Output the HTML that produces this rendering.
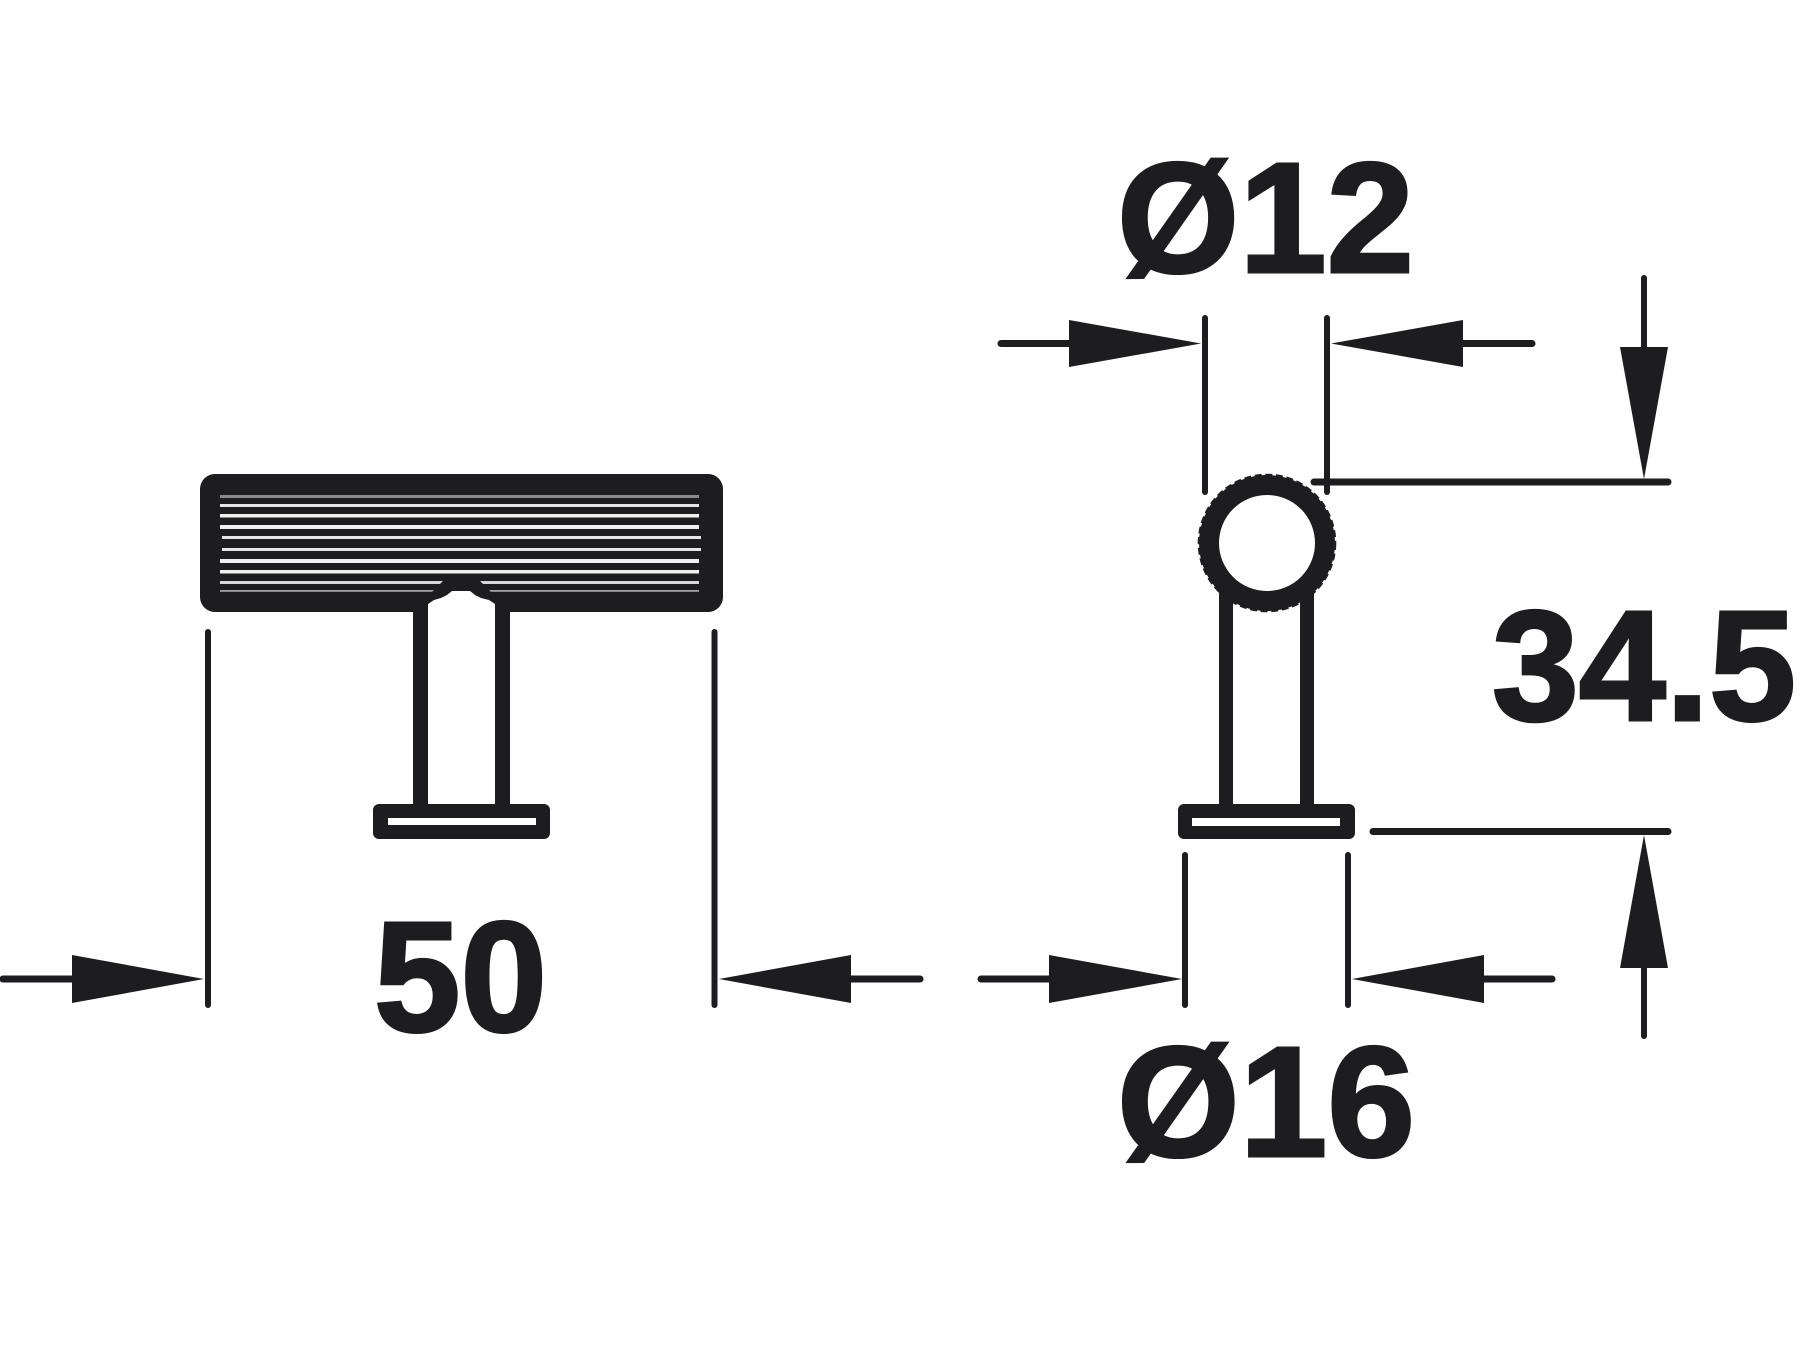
<!DOCTYPE html>
<html lang="en">
<head>
<meta charset="utf-8">
<title>Knob dimensions</title>
<style>
html,body{margin:0;padding:0;background:#fff;width:1800px;height:1350px;overflow:hidden}
svg{display:block}
text{font-family:"Liberation Sans",sans-serif;font-weight:700;font-size:157px;fill:#1d1c1e;stroke:#1d1c1e;stroke-width:3px}
</style>
</head>
<body>
<svg width="1800" height="1350" viewBox="0 0 1800 1350" xmlns="http://www.w3.org/2000/svg">
<rect width="1800" height="1350" fill="#fefefe"/>

<!-- Left view: knob head -->
<rect x="200" y="474" width="523" height="138" rx="15" fill="#1d1c1e"/>
<g>
<rect x="220" y="495" width="479" height="3" fill="#8a8a8a"/>
<rect x="220" y="504" width="479" height="3" fill="#e6e6e6"/>
<rect x="220" y="514" width="479" height="3.5" fill="#f0f0f0"/>
<rect x="220" y="525" width="479" height="4" fill="#f0f0f0"/>
<rect x="222" y="536" width="479" height="3" fill="#e6e6e6"/>
<rect x="222" y="548" width="479" height="3" fill="#e6e6e6"/>
<rect x="220" y="559" width="479" height="4" fill="#f0f0f0"/>
<rect x="220" y="570" width="479" height="3.5" fill="#f0f0f0"/>
<rect x="220" y="581" width="479" height="3" fill="#d8d8d8"/>
<rect x="220" y="590" width="479" height="1.8" fill="#a0a0a0"/>
</g>
<path d="M432 592 L446 578 L477 578 L491 592 L491 606 L432 606 Z" fill="#1d1c1e"/>
<!-- Left view: stem -->
<rect x="413" y="600" width="97" height="210" fill="#1d1c1e"/>
<path d="M428 810 L428 604 L434 600 L441 598 L447 595 L452 591 L470 591 L475 595 L481 598 L489 600 L495 604 L495 810 Z" fill="#fff"/>
<!-- Left view: base plate -->
<rect x="373" y="804" width="177" height="35" rx="6" fill="#1d1c1e"/>
<rect x="388" y="818" width="148" height="7" fill="#fff"/>

<!-- Right view: stem, plate, knurled ring -->
<rect x="1219" y="585" width="14" height="225" fill="#1d1c1e"/>
<rect x="1300" y="585" width="14" height="225" fill="#1d1c1e"/>
<rect x="1178" y="804" width="177" height="35" rx="6" fill="#1d1c1e"/>
<rect x="1192" y="818" width="148" height="8" fill="#fff"/>
<circle cx="1267" cy="543" r="58" fill="#fff" stroke="#1d1c1e" stroke-width="20"/>
<circle cx="1267" cy="543" r="68.5" fill="none" stroke="#1d1c1e" stroke-width="1.6" stroke-dasharray="7 3.7"/>

<!-- Lines -->
<g stroke="#1d1c1e" fill="none" stroke-linecap="round">
<g stroke-width="6">
<line x1="208" y1="632" x2="208" y2="1005"/>
<line x1="714.5" y1="632" x2="714.5" y2="1005"/>
<line x1="1205" y1="318" x2="1205" y2="492"/>
<line x1="1327" y1="318" x2="1327" y2="492"/>
<line x1="1185" y1="855" x2="1185" y2="1005"/>
<line x1="1348" y1="855" x2="1348" y2="1005"/>
<line x1="1644" y1="278" x2="1644" y2="350"/>
<line x1="1644" y1="965" x2="1644" y2="1036"/>
</g>
<g stroke-width="7">
<line x1="3" y1="979" x2="75" y2="979"/>
<line x1="850" y1="979" x2="920" y2="979"/>
<line x1="981" y1="979" x2="1052" y2="979"/>
<line x1="1481" y1="979" x2="1552" y2="979"/>
<line x1="1001" y1="343.5" x2="1072" y2="343.5"/>
<line x1="1460" y1="343.5" x2="1532" y2="343.5"/>
<line x1="1314" y1="482" x2="1668" y2="482"/>
<line x1="1373" y1="831.5" x2="1668" y2="831.5"/>
</g>
</g>

<!-- Arrowheads -->
<g fill="#1d1c1e">
<polygon points="72,955 72,1003 204,979"/>
<polygon points="851,955 851,1003 719,979"/>
<polygon points="1049,955 1049,1003 1182,979"/>
<polygon points="1484,955 1484,1003 1352,979"/>
<polygon points="1069,320 1069,367 1201,343.5"/>
<polygon points="1463,320 1463,367 1331,343.5"/>
<polygon points="1620,347 1668,347 1644,479"/>
<polygon points="1620,968 1668,968 1644,835"/>
</g>

<!-- Labels -->
<text x="1117" y="272" textLength="297" lengthAdjust="spacingAndGlyphs">Ø12</text>
<text x="1117" y="1156" textLength="298" lengthAdjust="spacingAndGlyphs">Ø16</text>
<text x="374" y="1031" textLength="173" lengthAdjust="spacingAndGlyphs">50</text>
<text x="1492" y="720" textLength="304" lengthAdjust="spacingAndGlyphs">34.5</text>
</svg>
</body>
</html>
